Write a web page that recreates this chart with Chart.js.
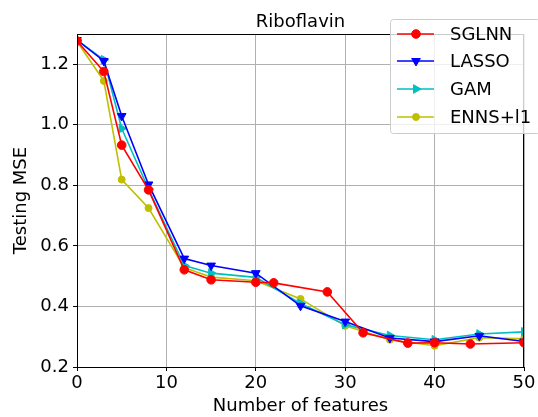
<!DOCTYPE html>
<html>
<head>
<meta charset="utf-8">
<script src="https://cdn.jsdelivr.net/npm/chart.js@4.4.1/dist/chart.umd.min.js"></script>
<style>
  html, body { margin: 0; padding: 0; background: #fff; }
  #wrap { width: 538px; height: 417px; }
</style>
</head>
<body>
<div id="wrap"><canvas id="MseChart" width="538" height="417"></canvas></div>
<script>
// values
const sglnn_x = [0, 3, 5, 8, 12, 15, 20, 22, 28, 32, 37, 40, 44, 50];
const sglnn_y = [1.277, 1.176, 0.933, 0.785, 0.521, 0.488, 0.48, 0.478, 0.448, 0.313, 0.279, 0.28, 0.276, 0.28];
const other_x = [0, 3, 5, 8, 12, 15, 20, 25, 30, 35, 40, 45, 50];
const lasso_y = [1.28, 1.211, 1.029, 0.803, 0.558, 0.535, 0.51, 0.402, 0.35, 0.296, 0.284, 0.303, 0.284];
const gam_y = [1.28, 1.215, 0.988, 0.788, 0.535, 0.51, 0.496, 0.41, 0.34, 0.304, 0.29, 0.309, 0.316];
const enns_y = [1.275, 1.145, 0.819, 0.725, 0.528, 0.497, 0.485, 0.425, 0.336, 0.29, 0.27, 0.297, 0.293];
const x_ticks = [0, 10, 20, 30, 40, 50];
const y_ticks = [0.2, 0.4, 0.6, 0.8, 1.0, 1.2];

const FONT = "'DejaVu Sans', sans-serif";

function points(xs, ys){
    const out = [];
    for (let i in xs){
        out.push({x: xs[i], y: ys[i]});
    }
    return out;
}

function series(label, xs, ys, color, style, rot, radius){
    return {
        label: label,
        data: points(xs, ys),
        borderColor: color,
        backgroundColor: color,
        borderWidth: 1.6,
        pointStyle: style,
        rotation: rot,
        pointRadius: radius,
        pointHoverRadius: radius,
        pointBorderWidth: 1,
        tension: 0
    };
}

const datasets = [
    series('SGLNN', sglnn_x, sglnn_y, '#ff0000', 'circle', 0, 4.3),
    series('LASSO', other_x, lasso_y, '#0000ff', 'triangle', 180, 5),
    series('GAM', other_x, gam_y, '#00bfbf', 'triangle', 90, 5),
    series('ENNS+l1', other_x, enns_y, '#bfbf00', 'circle', 0, 3.5)
];

// frame, title and the matplotlib-style legend
const decor = {
    id: 'decor',
    afterDraw(chart){
        const ctx = chart.ctx;
        const a = chart.chartArea;
        ctx.save();
        ctx.strokeStyle = '#000';
        ctx.lineWidth = 1;
        ctx.strokeRect(a.left + 0.5, a.top + 0.5, a.right - a.left - 1, a.bottom - a.top);

        ctx.fillStyle = '#000';
        ctx.font = '18px ' + FONT;
        ctx.textAlign = 'center';
        ctx.textBaseline = 'alphabetic';
        ctx.fillText('Riboflavin', (a.left + a.right) / 2, 27);

        // legend box
        const bx = 390, by = 19, bw = 150, bh = 114;
        ctx.fillStyle = 'rgba(255,255,255,0.8)';
        ctx.strokeStyle = '#cccccc';
        ctx.beginPath();
        ctx.roundRect(bx + 0.5, by + 0.5, bw, bh, 3);
        ctx.fill();
        ctx.stroke();

        const rows = [34, 61, 89, 117];
        ctx.font = '18px ' + FONT;
        ctx.textAlign = 'left';
        ctx.textBaseline = 'middle';
        chart.data.datasets.forEach((ds, i) => {
            const y = rows[i];
            ctx.strokeStyle = ds.borderColor;
            ctx.lineWidth = 1.6;
            ctx.beginPath();
            ctx.moveTo(397, y);
            ctx.lineTo(434, y);
            ctx.stroke();
            ctx.fillStyle = ds.backgroundColor;
            ctx.strokeStyle = ds.borderColor;
            ctx.lineWidth = 1;
            Chart.helpers.drawPoint(ctx, {
                pointStyle: ds.pointStyle,
                rotation: ds.rotation,
                radius: ds.pointRadius,
                borderWidth: 1
            }, 416, y);
            ctx.fillStyle = '#000';
            ctx.fillText(ds.label, 450, y + 1);
        });
        ctx.restore();
    }
};

const ctx = document.getElementById('MseChart').getContext('2d');
const chart = new Chart(ctx, {
    type: 'line',
    data: { datasets: datasets },
    options: {
        responsive: false,
        animation: false,
        layout: { padding: { top: 34, right: 14, left: 0, bottom: 0 } },
        plugins: {
            legend: { display: false },
            title: { display: false },
            tooltip: { enabled: false }
        },
        scales: {
            x: {
                type: 'linear',
                min: 0,
                max: 50,
                afterBuildTicks: s => { s.ticks = x_ticks.map(v => ({value: v})); },
                afterFit: s => { s.height = 50; },
                ticks: {
                    color: '#000',
                    font: { family: FONT, size: 18 },
                    padding: 2,
                    maxRotation: 0
                },
                grid: { color: '#b0b0b0', tickColor: '#000', tickLength: 4, lineWidth: 1 },
                border: { color: '#000' },
                title: {
                    display: true,
                    text: 'Number of features',
                    color: '#000',
                    font: { family: FONT, size: 18 },
                    padding: { top: 0, bottom: 0 }
                }
            },
            y: {
                type: 'linear',
                min: 0.2,
                max: 1.3,
                afterBuildTicks: s => { s.ticks = y_ticks.map(v => ({value: v})); },
                afterFit: s => { s.width = 77; },
                ticks: {
                    color: '#000',
                    font: { family: FONT, size: 18 },
                    padding: 4,
                    callback: v => v.toFixed(1)
                },
                grid: { color: '#b0b0b0', tickColor: '#000', tickLength: 4, lineWidth: 1 },
                border: { color: '#000' },
                title: {
                    display: true,
                    text: 'Testing MSE',
                    color: '#000',
                    font: { family: FONT, size: 18 },
                    padding: { top: 11, bottom: 0 }
                }
            }
        }
    },
    plugins: [decor]
});
</script>
</body>
</html>
